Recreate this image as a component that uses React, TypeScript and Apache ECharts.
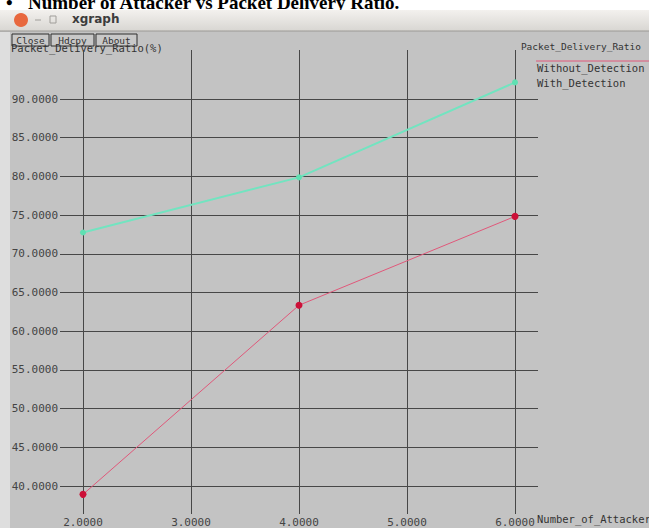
import React, { useEffect, useRef } from "react";
import * as echarts from "echarts";

// Number of attackers on the x axis
const attackers = [2, 4, 6];
// Packet delivery ratio (%) for each run
const withoutDetection = [38.3, 63.0, 74.6];
const withDetection = [72.5, 79.7, 92.1];

const seriesNames = ["Without_Detection", "With_Detection"];
const yTitle = "Packet_Delivery_Ratio(%)";
const xTitle = "Number_of_Attackers";
const plotTitle = "Packet_Delivery_Ratio";
const heading = "Number of Attacker vs Packet Delivery Ratio.";
const buttons = ["Close", "Hdcpy", "About"];

const W = 649;
const H = 528;
const MONO = "'DejaVu Sans Mono', 'Liberation Mono', monospace";

// layout of the plotting area (pixels)
const Y_TOP = 99; // position of the 90 line
const Y_BOTTOM = 486; // position of the 40 line
const Y_MIN = 40;
const Y_MAX = 90;
const PLOT_TOP = 50;
const PLOT_BOTTOM = 519;
const pxPerUnit = (Y_BOTTOM - Y_TOP) / (Y_MAX - Y_MIN);
const GRID_COLOR = "#474747";

export default function App() {
  const ref = useRef<HTMLDivElement>(null);

  useEffect(() => {
    if (!ref.current) return;
    const chart = echarts.init(ref.current, null, { renderer: "svg" });

    const dataMin = Y_MIN - (PLOT_BOTTOM - Y_BOTTOM) / pxPerUnit;
    const dataMax = Y_MAX + (Y_TOP - PLOT_TOP) / pxPerUnit;

    const btnWidths = [37, 43, 41];
    let bx = 12;
    const buttonEls: any[] = [];
    buttons.forEach((b, i) => {
      buttonEls.push({
        type: "rect",
        shape: { x: bx, y: 34, width: btnWidths[i], height: 12 },
        style: { fill: "#c8c8c8", stroke: "#2e2e2e", lineWidth: 1 },
      });
      buttonEls.push({
        type: "text",
        x: bx + btnWidths[i] / 2,
        y: 40,
        style: {
          text: b,
          font: `9.5px ${MONO}`,
          fill: "#333",
          align: "center",
          verticalAlign: "middle",
        },
      });
      bx += btnWidths[i] + 2;
    });

    chart.setOption({
      animation: false,
      backgroundColor: "#c3c3c3",
      grid: [
        { left: 60, right: W - 538, top: Y_TOP, bottom: H - Y_BOTTOM },
        { left: 83, right: W - 515, top: PLOT_TOP, bottom: H - PLOT_BOTTOM },
      ],
      xAxis: [
        { type: "value", gridIndex: 0, show: false, min: 0, max: 1 },
        {
          type: "value",
          gridIndex: 1,
          min: 2,
          max: 6,
          interval: 1,
          axisLine: { show: false },
          axisTick: { show: false },
          splitLine: { show: true, lineStyle: { color: GRID_COLOR, width: 1 } },
          axisLabel: {
            margin: 3,
            fontFamily: MONO,
            fontSize: 11,
            color: "#444",
            formatter: (v: number) => v.toFixed(4),
          },
        },
      ],
      yAxis: [
        {
          type: "value",
          gridIndex: 0,
          min: Y_MIN,
          max: Y_MAX,
          interval: 5,
          axisLine: { show: false },
          axisTick: { show: false },
          splitLine: { show: true, lineStyle: { color: GRID_COLOR, width: 1 } },
          axisLabel: {
            margin: 2,
            fontFamily: MONO,
            fontSize: 11,
            color: "#444",
            formatter: (v: number) => v.toFixed(4),
          },
        },
        {
          type: "value",
          gridIndex: 1,
          min: dataMin,
          max: dataMax,
          show: false,
          splitLine: { show: false },
        },
      ],
      series: [
        {
          name: seriesNames[0],
          type: "line",
          xAxisIndex: 1,
          yAxisIndex: 1,
          data: attackers.map((x, i) => [x, withoutDetection[i]]),
          lineStyle: { color: "#e0587a", width: 1 },
          itemStyle: { color: "#cc1038" },
          symbol: "circle",
          symbolSize: 7,
          clip: false,
        },
        {
          name: seriesNames[1],
          type: "line",
          xAxisIndex: 1,
          yAxisIndex: 1,
          data: attackers.map((x, i) => [x, withDetection[i]]),
          lineStyle: { color: "#72e4c0", width: 2 },
          itemStyle: { color: "#5fe0b2" },
          symbol: "circle",
          symbolSize: 6,
          clip: false,
        },
      ],
      graphic: [
        // page heading above the window
        { type: "rect", shape: { x: 0, y: 0, width: W, height: 10 }, style: { fill: "#ffffff" } },
        {
          type: "text",
          x: 6,
          y: 12,
          style: {
            text: "\u2022",
            font: "bold 19px 'Liberation Serif', serif",
            fill: "#000",
            verticalAlign: "bottom",
          },
        },
        {
          type: "text",
          x: 28,
          y: 12,
          style: {
            text: heading,
            font: "bold 19px 'Liberation Serif', serif",
            fill: "#000",
            verticalAlign: "bottom",
          },
        },
        // window title bar
        {
          type: "rect",
          shape: { x: 0, y: 10, width: W, height: 21 },
          style: {
            fill: new echarts.graphic.LinearGradient(0, 0, 0, 1, [
              { offset: 0, color: "#f3f1ee" },
              { offset: 1, color: "#d8d6d2" },
            ]),
          },
        },
        {
          type: "line",
          shape: { x1: 0, y1: 31, x2: W, y2: 31 },
          style: { stroke: "#9c9a96", lineWidth: 1 },
        },
        {
          type: "circle",
          shape: { cx: 21, cy: 20, r: 7 },
          style: { fill: "#e8683e" },
        },
        {
          type: "line",
          shape: { x1: 35, y1: 20, x2: 41, y2: 20 },
          style: { stroke: "#a09e9a", lineWidth: 1 },
        },
        {
          type: "rect",
          shape: { x: 50, y: 16, width: 6, height: 7 },
          style: { fill: "none", stroke: "#a09e9a", lineWidth: 1 },
        },
        {
          type: "text",
          x: 72,
          y: 19,
          style: {
            text: "xgraph",
            font: "bold 12px 'DejaVu Sans', sans-serif",
            fill: "#3c3c3c",
            verticalAlign: "middle",
          },
        },
        // light strip on the left edge
        { type: "rect", shape: { x: 0, y: 32, width: 10, height: H - 32 }, style: { fill: "#dedede" } },
        ...buttonEls,
        {
          type: "text",
          x: 11,
          y: 48,
          style: {
            text: yTitle,
            font: `10.5px ${MONO}`,
            fill: "#333",
            verticalAlign: "middle",
          },
        },
        {
          type: "text",
          x: 641,
          y: 46,
          style: {
            text: plotTitle,
            font: `9.5px ${MONO}`,
            fill: "#333",
            align: "right",
            verticalAlign: "middle",
          },
        },
        // legend
        {
          type: "line",
          shape: { x1: 536, y1: 61, x2: W, y2: 61 },
          style: { stroke: "#e0587a", lineWidth: 1 },
        },
        {
          type: "text",
          x: 537,
          y: 68,
          style: {
            text: seriesNames[0],
            font: `10.5px ${MONO}`,
            fill: "#333",
            verticalAlign: "middle",
          },
        },
        {
          type: "text",
          x: 537,
          y: 83,
          style: {
            text: seriesNames[1],
            font: `10.5px ${MONO}`,
            fill: "#333",
            verticalAlign: "middle",
          },
        },
        {
          type: "text",
          x: 537,
          y: 519,
          style: {
            text: xTitle,
            font: `10.5px ${MONO}`,
            fill: "#333",
            verticalAlign: "middle",
          },
        },
      ],
    });

    return () => chart.dispose();
  }, []);

  return (
    <div
      ref={ref}
      style={{ position: "fixed", left: 0, top: 0, width: W, height: H }}
    />
  );
}
